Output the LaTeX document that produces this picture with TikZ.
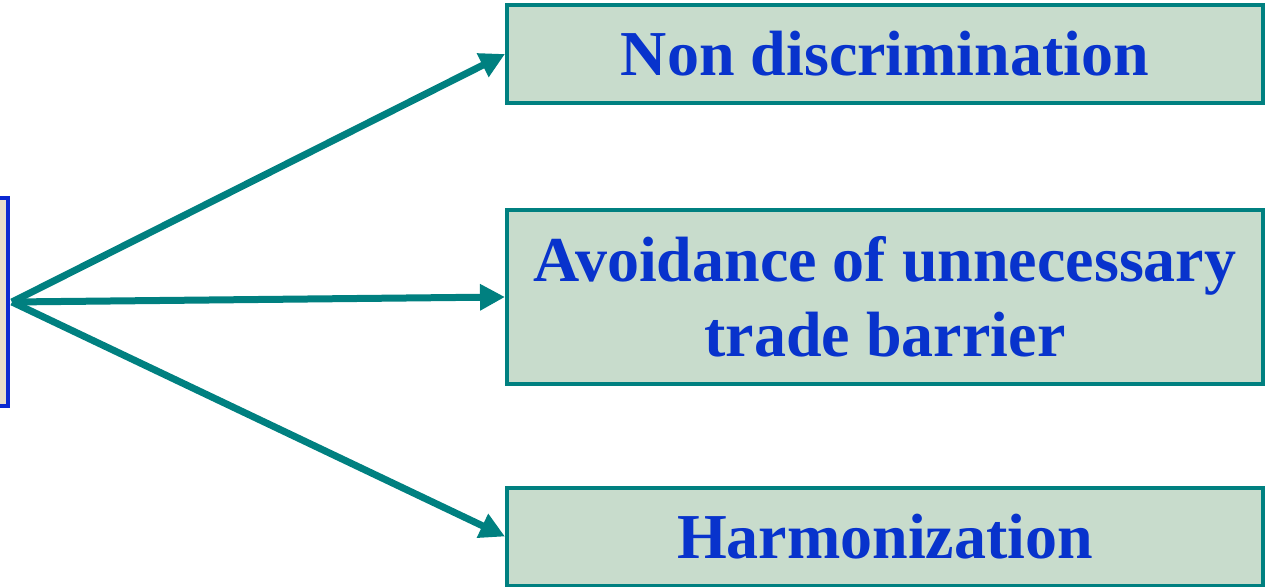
\documentclass[tikz,border=0pt]{standalone}
\usepackage{fontspec}
\setmainfont{Liberation Serif}
\usetikzlibrary{arrows.meta}

\definecolor{tealline}{HTML}{008080}
\definecolor{boxfill}{HTML}{C8DCCC}
\definecolor{textblue}{HTML}{0833CC}
\definecolor{srcfill}{HTML}{E6DCCB}
\definecolor{srcline}{HTML}{0A28D2}

\begin{document}
\begin{tikzpicture}[
    x=0.5pt, y=-0.5pt,
    tbox/.style={
        rectangle, draw=tealline, line width=2pt, fill=boxfill,
        minimum width=378pt, inner sep=0pt, align=center,
        text=textblue, font=\fontsize{32}{37.5}\selectfont\bfseries
    },
    srcbox/.style={
        rectangle, draw=srcline, line width=2.2pt, fill=srcfill,
        minimum width=50pt, minimum height=104pt, inner sep=0pt
    },
    arr/.style={
        draw=tealline, line width=3.5pt,
        -{Triangle[length=12.5pt,width=12.5pt]}
    },
]

\useasboundingbox (0,0) rectangle (1268,587);
\clip (0,0) rectangle (1268,587);

% x in px, y in px (downwards)
\node [srcbox] (src) at (-42,302) {};
\node [tbox, minimum height=49pt] (nd)   at (885,54)  {Non discrimination};
\node [tbox, minimum height=87pt] (atb)  at (885,297) {Avoidance of unnecessary\\trade barrier};
\node [tbox, minimum height=49pt] (harm) at (885,536.5) {Harmonization};

\coordinate (o) at (12,302);

\draw[arr] (o) -- (nd.west);
\draw[arr] (o) -- (atb.west);
\draw[arr] (o) -- (harm.west);

\end{tikzpicture}
\end{document}
